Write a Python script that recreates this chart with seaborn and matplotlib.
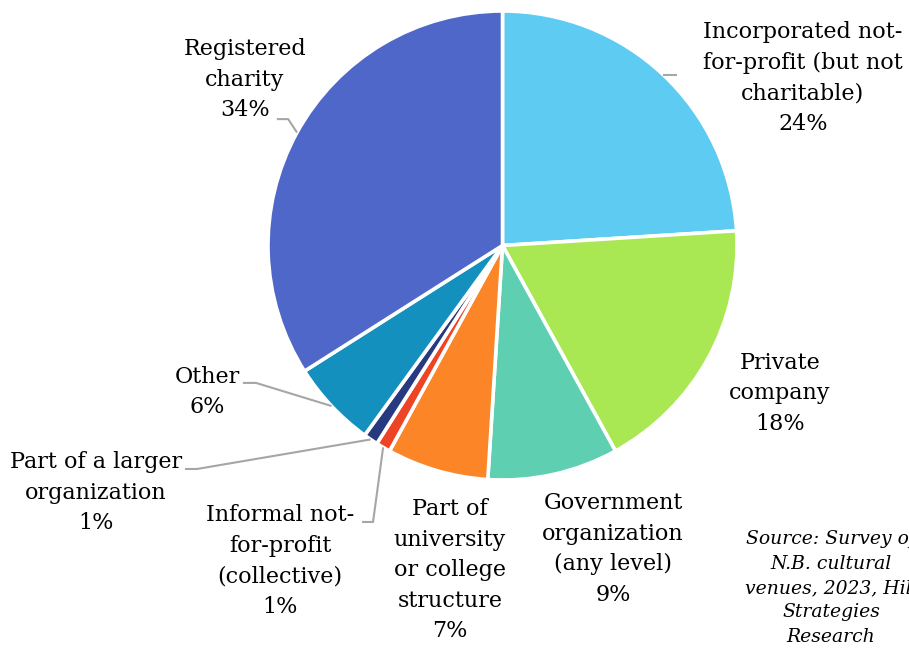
import numpy as np
import matplotlib
matplotlib.use("Agg")
import matplotlib.pyplot as plt
import seaborn as sns

# Organizational structure of cultural venues (share of respondents, %)
categories = [
    "Incorporated not-\nfor-profit (but not\ncharitable)",
    "Private\ncompany",
    "Government\norganization\n(any level)",
    "Part of\nuniversity\nor college\nstructure",
    "Informal not-\nfor-profit\n(collective)",
    "Part of a larger\norganization",
    "Other",
    "Registered\ncharity",
]
shares = [24, 18, 9, 7, 1, 1, 6, 34]
colors = ["#5ECBF2", "#A9E853", "#5ECFB1", "#FB8527",
          "#EE4426", "#27397F", "#1490BE", "#4F67C9"]
source_note = "Source: Survey of\nN.B. cultural\nvenues, 2023, Hill\nStrategies\nResearch"

# Label placement (pie radius = 1): text centre and optional leader elbow/tail
label_xy = [(1.281, 0.714), (1.183, -0.629), (0.471, -1.294), (-0.224, -1.384),
            (-0.949, -1.345), (-1.733, -1.055), (-1.260, -0.625), (-1.098, 0.706)]
leaders = [(None, None, 0.744), None, None, None,
           (-0.552, -1.179, -0.599), (-1.303, -0.953, -1.354),
           (-1.051, -0.586, -1.107), (-0.914, 0.539, -0.962)]

sns.set_theme(style="white")
plt.rcParams["font.family"] = ["DejaVu Serif"]

W, H = 909, 654
fig = plt.figure(figsize=(W / 100, H / 100), dpi=100)
fig.patch.set_facecolor("white")

cx, cy, r = 502.5, 245.5, 234.5
ax = fig.add_axes([(cx - r) / W, 1 - (cy + r) / H, 2 * r / W, 2 * r / H])

palette = sns.color_palette(colors)
wedges, _ = ax.pie(shares, colors=palette, startangle=90, counterclock=False,
                   radius=1.0, wedgeprops=dict(edgecolor="white", linewidth=2.6))
ax.set_xlim(-1, 1)
ax.set_ylim(-1, 1)
ax.set_aspect("equal")
ax.axis("off")

for w, name, val, (tx, ty), ld in zip(wedges, categories, shares, label_xy, leaders):
    mid = np.deg2rad((w.theta1 + w.theta2) / 2)
    ex, ey = np.cos(mid), np.sin(mid)
    if ld is not None:
        elx, ely, tail = ld
        if elx is None:
            elx, ely = ex, ey
        ax.plot([ex, elx, tail], [ey, ely, ely], color="#A6A6A6", lw=1.5,
                solid_capstyle="butt", clip_on=False, zorder=1)
    ax.text(tx, ty, f"{name}\n{val}%", ha="center", va="center",
            multialignment="center", fontsize=16, color="black",
            linespacing=1.5, clip_on=False)

fig.text(831 / W, 1 - 588 / H, source_note, ha="center", va="center",
         multialignment="center", fontsize=13.5, style="italic",
         color="black", linespacing=1.45)

fig.savefig("out.png", dpi=100, facecolor="white")
